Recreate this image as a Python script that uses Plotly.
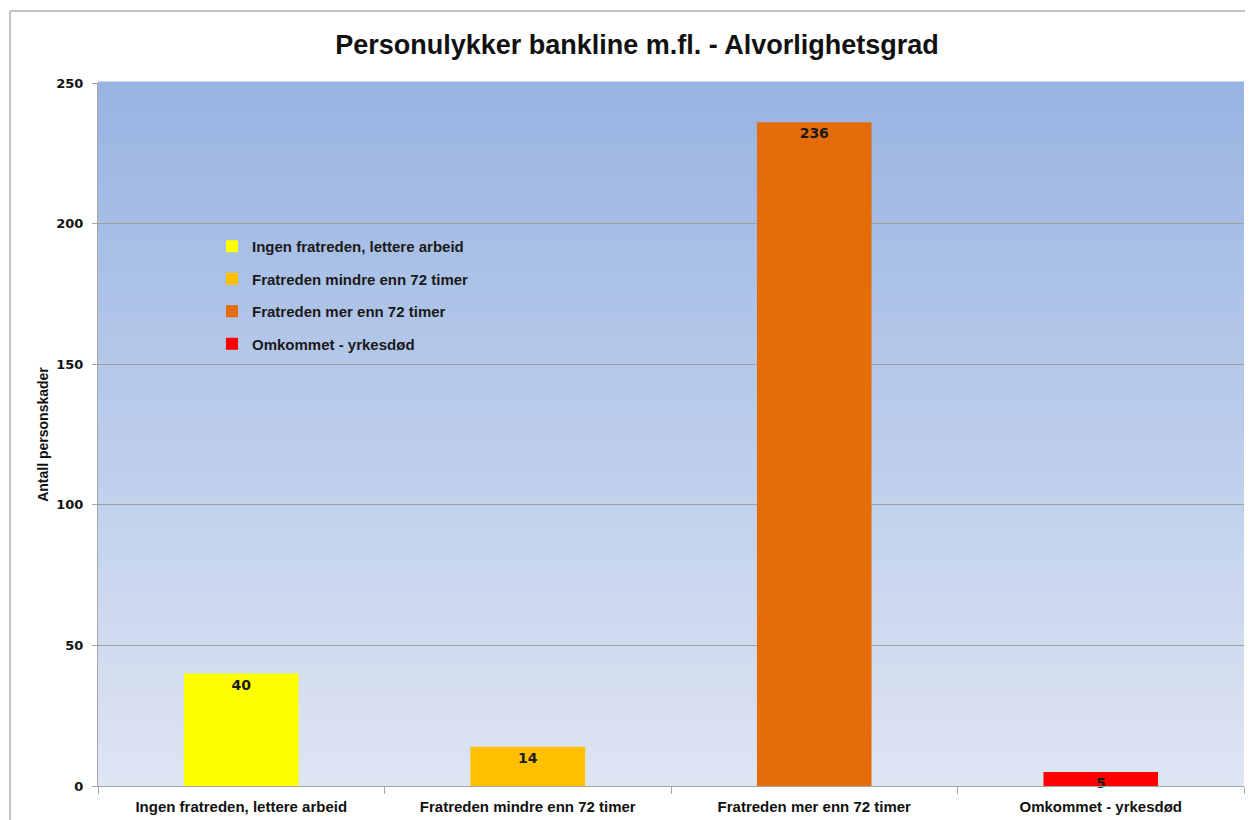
import plotly.graph_objects as go

categories = ["Ingen fratreden, lettere arbeid", "Fratreden mindre enn 72 timer",
              "Fratreden mer enn 72 timer", "Omkommet - yrkesdød"]
values = [40, 14, 236, 5]
colors = ["#ffff00", "#ffc000", "#e46c0a", "#ff0000"]
title = "Personulykker bankline m.fl. - Alvorlighetsgrad"
y_title = "Antall personskader"
y_ticks = [0, 50, 100, 150, 200, 250]

SANS = "Liberation Sans, Arial, sans-serif"
WIDE = "DejaVu Sans, Verdana, sans-serif"

fig = go.Figure()
for i, (c, v, col) in enumerate(zip(categories, values, colors)):
    fig.add_trace(go.Bar(
        x=[c], y=[v], name=c, marker=dict(color=col, line=dict(width=0)),
        width=0.4, text=[v], textposition="inside", insidetextanchor="end",
        constraintext="none", textangle=0, legendgroup=f"g{i}",
        textfont=dict(family=WIDE, size=14, color="#1a1a1a", weight="bold"),
        cliponaxis=False,
    ))

# page is offset by the body margin (8px)
OFF = 8
W, H = 1253 - OFF, 820 - OFF
L, T = 98 - OFF, 83 - OFF
R = W - (1244 - OFF)
B = H - (786 - OFF)
pw = W - L - R
ph = H - T - B

def px(xpage):
    return (xpage - OFF - L) / pw

def py(ypage):
    return (H - B - (ypage - OFF)) / ph

# gradient plot background
shapes = []
n = 120
top = (152, 180, 226)
bot = (222, 229, 243)
for i in range(n):
    t = i / (n - 1)
    r = round(bot[0] + (top[0] - bot[0]) * t)
    g = round(bot[1] + (top[1] - bot[1]) * t)
    b = round(bot[2] + (top[2] - bot[2]) * t)
    shapes.append(dict(type="rect", xref="paper", yref="paper", x0=0, x1=1,
                       y0=i / n, y1=(i + 1) / n + 0.002, line=dict(width=0),
                       fillcolor=f"rgb({r},{g},{b})", layer="below"))
# outer chart border (top and left)
bx, by = px(10), py(11)
shapes.append(dict(type="line", xref="paper", yref="paper", x0=bx, x1=2, y0=by, y1=by,
                   line=dict(color="#b0b0b0", width=1.5)))
shapes.append(dict(type="line", xref="paper", yref="paper", x0=bx, x1=bx, y0=by, y1=-1,
                   line=dict(color="#b0b0b0", width=1.5)))

fig.update_layout(
    width=W, height=H,
    margin=dict(l=L, r=R, t=T, b=B, autoexpand=False),
    paper_bgcolor="white", plot_bgcolor="rgba(0,0,0,0)",
    barmode="overlay",
    shapes=shapes,
    title=dict(text=title, x=(637 - OFF) / W, xanchor="center", y=1 - (45 - OFF) / H,
               yanchor="middle",
               font=dict(family=SANS, size=27, color="#111111", weight="bold")),
    legend=dict(x=px(212), y=py(230), xanchor="left", yanchor="top",
                bgcolor="rgba(0,0,0,0)", traceorder="grouped", tracegroupgap=10,
                font=dict(family=SANS, size=15, color="#1a1a1a", weight="bold")),
    xaxis=dict(showline=True, linecolor="#a6a6a6", linewidth=1, ticks="outside",
               tickson="boundaries", ticklen=7, tickcolor="#a6a6a6",
               ticklabelstandoff=7, automargin=False,
               tickfont=dict(family=SANS, size=15, color="#111111", weight="bold"),
               showgrid=False),
    yaxis=dict(range=[0, 250], tickvals=y_ticks, showline=True, linecolor="#a6a6a6",
               linewidth=1, ticks="outside", ticklen=5, tickcolor="#a6a6a6",
               showgrid=True, gridcolor="#9f9f9f", gridwidth=1, zeroline=False,
               ticklabelstandoff=6, automargin=False,
               tickfont=dict(family=WIDE, size=13, color="#111111", weight="bold"),
               title=dict(text=y_title, standoff=4,
                          font=dict(family=SANS, size=14, color="#111111", weight="bold"))),
    showlegend=True,
)

fig.write_html("out.html")
